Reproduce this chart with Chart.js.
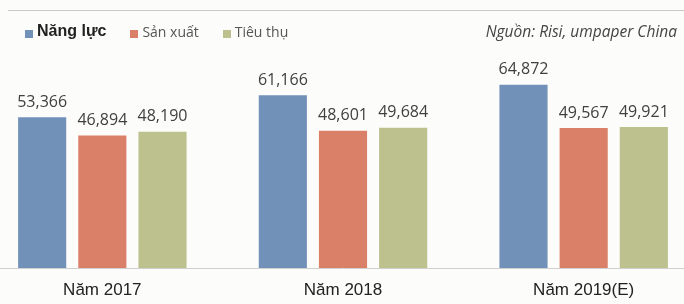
<!DOCTYPE html>
<html>
<head>
<meta charset="utf-8">
<script src="https://cdn.jsdelivr.net/npm/chart.js@4/dist/chart.umd.min.js"></script>
<style>
  html, body { margin: 0; padding: 0; background: #fcfcfa; }
  #wrap { position: relative; width: 684px; height: 304px; overflow: hidden; }
  #topLine { position: absolute; left: 8px; right: 0; top: 10px; border-top: 1px solid #c8c8c8; }
  #legend { position: absolute; left: 25px; top: 21px; height: 20px; display: flex; align-items: center; font-family: "Open Sans", sans-serif; z-index: 2; }
  .item { display: flex; align-items: center; margin-right: 24px; }
  .sw { width: 8px; height: 8px; margin-right: 4px; margin-top: 5px; }
  .lbl { font-size: 14px; color: #555; }
  .lbl.main { font-family: "Liberation Sans", Arial, sans-serif; font-weight: bold; font-size: 16px; color: #222; }
  #source { position: absolute; right: 7px; top: 20px; font-family: "Open Sans", sans-serif; font-style: italic; font-size: 15.5px; color: #444; z-index: 2; }
  /* canvas is a bit wider than the window so the groups sit where they do in the original */
  #chart { position: absolute; left: -18px; top: 0; }
</style>
</head>
<body>
<div id="wrap">
  <div id="topLine"></div>
  <div id="legend"></div>
  <div id="source">Nguồn: Risi, umpaper China</div>
  <canvas id="chart" width="722" height="304"></canvas>
</div>
<script>
const years = ['Năm 2017', 'Năm 2018', 'Năm 2019(E)'];
const seriesNames = ['Năng lực', 'Sản xuất', 'Tiêu thụ'];
const capacity = [53366, 61166, 64872];
const production = [46894, 48601, 49567];
const consumption = [48190, 49684, 49921];
const colors = ['#7291b9', '#db8068', '#bcc18d'];

const legendEl = document.getElementById('legend');
seriesNames.forEach((name, i) => {
  const item = document.createElement('div');
  item.className = 'item';
  item.innerHTML = `<span class="sw" style="background:${colors[i]}"></span><span class="lbl${i === 0 ? ' main' : ''}">${name}</span>`;
  legendEl.appendChild(item);
});

function fmt(v) {
  return v.toLocaleString('en-US');
}

// value labels above each bar
const valueLabels = {
  id: 'valueLabels',
  afterDatasetsDraw(chart) {
    const ctx = chart.ctx;
    ctx.save();
    ctx.font = '16px "Open Sans", sans-serif';
    ctx.fillStyle = '#404040';
    ctx.textAlign = 'center';
    ctx.textBaseline = 'bottom';
    chart.data.datasets.forEach((ds, di) => {
      chart.getDatasetMeta(di).data.forEach((bar, i) => {
        ctx.fillText(fmt(ds.data[i]), bar.x, bar.y - 7);
      });
    });
    ctx.restore();
  },
};

new Chart(document.getElementById('chart'), {
  type: 'bar',
  data: {
    labels: years,
    datasets: [
      { label: seriesNames[0], data: capacity, backgroundColor: colors[0] },
      { label: seriesNames[1], data: production, backgroundColor: colors[1] },
      { label: seriesNames[2], data: consumption, backgroundColor: colors[2] },
    ],
  },
  options: {
    responsive: false,
    animation: false,
    layout: { padding: { top: 42, left: 0, right: 0, bottom: 0 } },
    datasets: {
      bar: { categoryPercentage: 0.75, barPercentage: 0.8 },
    },
    plugins: {
      legend: { display: false },
      tooltip: { enabled: false },
    },
    scales: {
      x: {
        grid: { display: false, drawTicks: false },
        border: { display: true, color: '#d0d0d0', width: 1 },
        ticks: {
          padding: 12,
          color: '#222',
          font: { family: '"Liberation Sans", Arial, sans-serif', size: 17 },
        },
        afterFit(scale) {
          scale.height = 36;
        },
      },
      y: {
        display: false,
        min: 0,
        max: 80000,
      },
    },
  },
  plugins: [valueLabels],
});
</script>
</body>
</html>
